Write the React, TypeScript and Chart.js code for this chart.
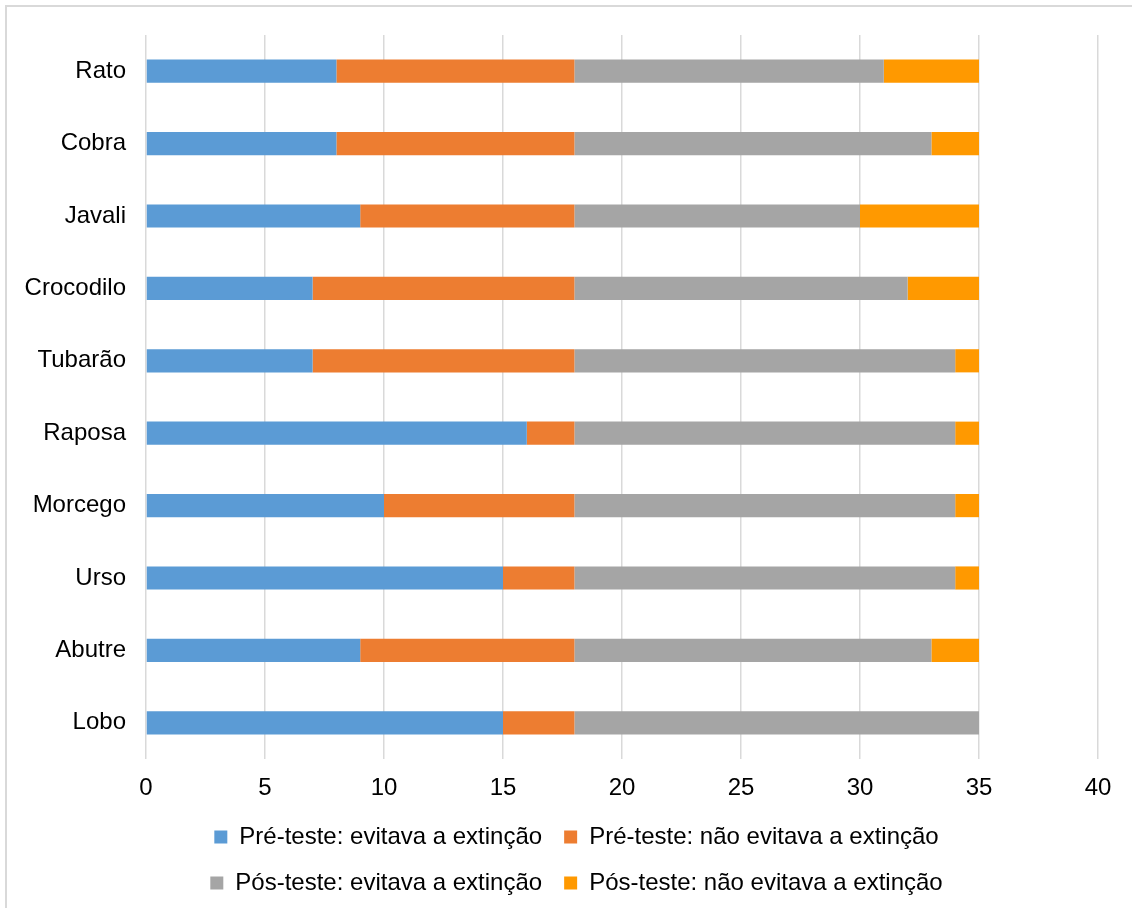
import React, { useEffect, useRef } from "react";
import { Chart, registerables } from "chart.js";

Chart.register(...registerables);

const categories = ["Rato", "Cobra", "Javali", "Crocodilo", "Tubarão", "Raposa", "Morcego", "Urso", "Abutre", "Lobo"];
const seriesNames = [
  "Pré-teste: evitava a extinção",
  "Pré-teste: não evitava a extinção",
  "Pós-teste: evitava a extinção",
  "Pós-teste: não evitava a extinção",
];
const preEvitava = [8, 8, 9, 7, 7, 16, 10, 15, 9, 15];
const preNaoEvitava = [10, 10, 9, 11, 11, 2, 8, 3, 9, 3];
const posEvitava = [13, 15, 12, 14, 16, 16, 16, 16, 15, 17];
const posNaoEvitava = [4, 2, 5, 3, 1, 1, 1, 1, 2, 0];
const xTicks = [0, 5, 10, 15, 20, 25, 30, 35, 40];

const colors = ["#5B9BD5", "#ED7D31", "#A5A5A5", "#FF9900"];
const FONT = "'Liberation Sans', Arial, sans-serif";

const shiftLegend = {
  id: "shiftLegend",
  afterLayout(chart: any) {
    const l = chart.legend;
    if (l) {
      l.left += 24;
      l.right += 24;
      l.top += 2;
      l.bottom += 2;
    }
  },
};

export default function App() {
  const ref = useRef<HTMLCanvasElement | null>(null);

  useEffect(() => {
    if (!ref.current) return;
    const values = [preEvitava, preNaoEvitava, posEvitava, posNaoEvitava];
    const chart = new Chart(ref.current, {
      type: "bar",
      data: {
        labels: categories,
        datasets: values.map((v, i) => ({
          label: seriesNames[i],
          data: v,
          backgroundColor: colors[i],
          borderWidth: 0,
          categoryPercentage: 0.32,
          barPercentage: 1,
        })),
      },
      plugins: [shiftLegend],
      options: {
        indexAxis: "y",
        animation: false,
        responsive: false,
        devicePixelRatio: 1,
        layout: { padding: { left: 0, right: 34, top: 28, bottom: 5 } },
        scales: {
          x: {
            stacked: true,
            min: 0,
            max: 40,
            afterBuildTicks: (scale: any) => {
              scale.ticks = xTicks.map((v) => ({ value: v }));
            },
            afterFit: (scale: any) => {
              scale.height = 42;
            },
            grid: { color: "#d9d9d9", lineWidth: 1.5, drawTicks: false },
            border: { display: false },
            ticks: {
              padding: 15,
              color: "#000",
              font: { family: FONT, size: 24 },
            },
          },
          y: {
            stacked: true,
            afterFit: (scale: any) => {
              scale.width = 139;
              scale.paddingTop = 0;
              scale.paddingBottom = 0;
            },
            grid: { display: false, drawTicks: false },
            border: { display: false },
            ticks: {
              padding: 20,
              color: "#000",
              font: { family: FONT, size: 24 },
            },
          },
        },
        plugins: {
          tooltip: { enabled: false },
          legend: {
            position: "bottom",
            labels: {
              boxWidth: 13,
              boxHeight: 13,
              padding: 22,
              color: "#000",
              font: { family: FONT, size: 24 },
            },
          },
        },
      },
    });
    return () => chart.destroy();
  }, []);

  return (
    <div
      style={{
        position: "absolute",
        left: 5,
        top: 5,
        width: 1127,
        height: 903,
        boxSizing: "border-box",
        borderTop: "2px solid #d9d9d9",
        borderLeft: "2px solid #d9d9d9",
        background: "#fff",
        overflow: "hidden",
      }}
    >
      <canvas ref={ref} width={1125} height={901} style={{ display: "block" }} />
    </div>
  );
}
